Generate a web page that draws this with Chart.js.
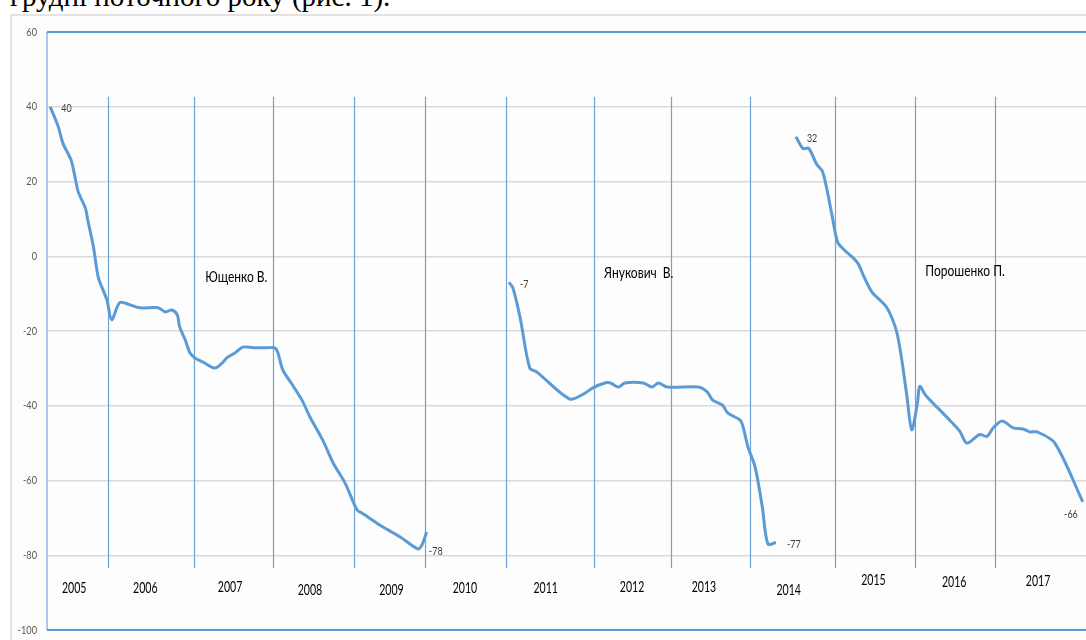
<!DOCTYPE html>
<html>
<head>
<meta charset="utf-8">
<script src="https://cdn.jsdelivr.net/npm/chart.js@4"></script>
<style>
  html, body { margin: 0; padding: 0; background: #ffffff; overflow: hidden; width: 1086px; height: 640px; }
  #wrap { position: relative; width: 1086px; height: 640px; overflow: hidden; }
  #doctext { position: absolute; left: 10px; top: -18px; font-family: 'Liberation Serif', 'Times New Roman', serif; font-size: 29px; line-height: 29px; color: #000; white-space: nowrap; }
  #frame { position: absolute; left: 10px; top: 14px; right: 0; bottom: 0; border-left: 2px solid #e3e3e3; border-top: 2px solid #e3e3e3; background: #fdfdfd; }
  canvas { position: absolute; left: 0; top: 0; }
</style>
</head>
<body>
<div id="wrap">
  <div id="doctext">грудні поточного року (рис. 1).</div>
  <div id="frame"></div>
  <canvas id="c" width="1086" height="640"></canvas>
</div>
<script>
// ---- Data (x = time in years, y = balance value) ----
const yushchenkoX = [2005.04, 2005.14, 2005.20, 2005.30, 2005.34, 2005.39, 2005.48, 2005.51, 2005.58, 2005.64,
  2005.70, 2005.75, 2005.81, 2005.91, 2006.04, 2006.16, 2006.39, 2006.48, 2006.56, 2006.63,
  2006.66, 2006.73, 2006.79, 2006.85, 2006.95, 2007.10, 2007.19, 2007.26, 2007.35, 2007.45,
  2007.58, 2007.75, 2007.85, 2007.89, 2007.95, 2008.07, 2008.19, 2008.29, 2008.45, 2008.58,
  2008.73, 2008.88, 2008.94, 2009.20, 2009.42, 2009.64, 2009.69, 2009.75];
const yushchenkoY = [40, 34.7, 30.2, 25.8, 22.3, 17.3, 12.9, 9.7, 2.6, -5.5,
  -9, -11.7, -17, -12.4, -13, -13.8, -13.8, -14.9, -14.4, -15.7,
  -18.9, -22.4, -25.9, -27.2, -28.3, -29.9, -28.6, -27, -25.9, -24.3,
  -24.5, -24.5, -24.5, -25.9, -30.4, -34.4, -38.5, -43, -49.2, -55.3,
  -60.7, -67.9, -68.7, -72.4, -75.1, -78.3, -77.3, -73.8];

const yanukovychX = [2010.78, 2010.83, 2010.92, 2011.04, 2011.13, 2011.54, 2011.71, 2011.83, 2011.98, 2012.05,
  2012.15, 2012.23, 2012.46, 2012.57, 2012.65, 2012.76, 2013.15, 2013.26, 2013.33, 2013.45,
  2013.52, 2013.67, 2013.71, 2013.77, 2013.86, 2013.95, 2014.02, 2014.12];
const yanukovychY = [-7, -8.5, -16.5, -29.9, -31, -38.2, -36.9, -35.2, -33.9, -33.9,
  -35, -33.9, -33.9, -35, -33.9, -35, -35, -36.3, -38.5, -39.8,
  -42, -43.8, -45.7, -51, -56.4, -67.1, -77, -76.6];

const poroshenkoX = [2014.37, 2014.46, 2014.53, 2014.63, 2014.70, 2014.76, 2014.82, 2014.89, 2014.96, 2015.14,
  2015.21, 2015.32, 2015.49, 2015.57, 2015.64, 2015.70, 2015.76, 2015.82, 2015.89, 2015.92,
  2015.99, 2016.26, 2016.42, 2016.51, 2016.67, 2016.76, 2016.84, 2016.95, 2017.09, 2017.21,
  2017.30, 2017.39, 2017.61, 2017.96];
const poroshenkoY = [32, 28.8, 28.9, 24.6, 22.8, 17.7, 11.2, 3.9, 2.0, -1.7,
  -4.9, -9.5, -13.2, -16.4, -21.0, -28.4, -37.6, -46.4, -39.4, -34.8,
  -37.1, -43.1, -46.8, -50, -47.7, -48.2, -45.9, -44.1, -45.9, -46.2,
  -47.0, -47.0, -50, -65.7];

// year captions under the plot (x in years, y in axis units)
const yearLabels = ['2005','2006','2007','2008','2009','2010','2011','2012','2013','2014','2015','2016','2017'];
const yearLabelX = [2005.34, 2006.23, 2007.29, 2008.29, 2009.31, 2010.23, 2011.24, 2012.32, 2013.22, 2014.28, 2015.34, 2016.35, 2017.40];
const yearLabelY = [-88.7, -88.7, -88.5, -89.2, -89.3, -88.8, -88.8, -88.5, -88.5, -89.3, -86.6, -87.2, -86.9];
// year separator lines
const yearBounds = [2005.76, 2006.84, 2007.83, 2008.84, 2009.73, 2010.74, 2011.84, 2012.81, 2013.80, 2014.86, 2015.86, 2016.86];
const boundTop = 42.7, boundBottom = -83.5;
const axisStart = 2005, axisEnd = 2018;
const yTickMin = -100, yTickMax = 60, yTickStep = 20;

const presidentNames = ['Ющенко В.', 'Янукович  В.', 'Порошенко П.'];
const presidentNameX = [2006.98, 2011.97, 2015.99];
const presidentNameY = [-5.6, -4.5, -3.9];

// data labels: [dataset, point index, placement]
const valueLabels = [[0, 0, 'right'], [0, 45, 'right'], [1, 0, 'right'], [1, 27, 'right'], [2, 0, 'right'], [2, 33, 'belowLeft']];

const zip = (xs, ys) => xs.map((x, i) => ({ x: x, y: ys[i] }));

const FONT = "Lato, 'Open Sans', 'Liberation Sans', sans-serif";
const BLUE = '#5b9bd5';

// draws horizontally condensed text (the reference picture is squeezed horizontally)
function condensed(ctx, txt, x, y, size, sx, align, color) {
  ctx.save();
  ctx.font = size + 'px ' + FONT;
  ctx.fillStyle = color;
  ctx.textBaseline = 'middle';
  ctx.textAlign = align;
  ctx.translate(x, y);
  ctx.scale(sx, 1);
  ctx.fillText(txt, 0, 0);
  ctx.restore();
}

const decor = {
  id: 'decor',
  beforeDatasetsDraw(chart) {
    const { ctx, chartArea: a, scales: { x, y } } = chart;
    ctx.save();
    // year separators
    ctx.strokeStyle = '#6fa3d8';
    ctx.lineWidth = 1.2;
    const yt = y.getPixelForValue(boundTop), yb = y.getPixelForValue(boundBottom);
    yearBounds.forEach(b => {
      const px = Math.round(x.getPixelForValue(b)) + 0.5;
      ctx.beginPath(); ctx.moveTo(px, yt); ctx.lineTo(px, yb); ctx.stroke();
    });
    // plot frame
    ctx.lineWidth = 2;
    ctx.strokeStyle = '#a9c9ea';
    ctx.beginPath(); ctx.moveTo(a.left, a.top); ctx.lineTo(a.left, a.bottom); ctx.stroke();
    ctx.strokeStyle = BLUE;
    ctx.beginPath(); ctx.moveTo(a.left, a.top); ctx.lineTo(a.right + 5, a.top); ctx.stroke();
    ctx.beginPath(); ctx.moveTo(a.left, a.bottom); ctx.lineTo(a.right + 5, a.bottom); ctx.stroke();
    ctx.restore();
    // y tick labels
    y.ticks.forEach(t => {
      condensed(ctx, String(t.value), a.left - 10, y.getPixelForValue(t.value), 11.5, 0.8, 'right', '#595959');
    });
    // year captions
    yearLabels.forEach((t, i) => {
      condensed(ctx, t, x.getPixelForValue(yearLabelX[i]), y.getPixelForValue(yearLabelY[i]), 16, 0.66, 'center', '#000');
    });
  },
  afterDatasetsDraw(chart) {
    const { ctx, scales: { x, y } } = chart;
    valueLabels.forEach(([d, i, pos]) => {
      const pt = chart.data.datasets[d].data[i];
      const px = x.getPixelForValue(pt.x), py = y.getPixelForValue(pt.y);
      const txt = String(Math.round(pt.y));
      if (pos === 'right') condensed(ctx, txt, px + 11, py + 2, 11.5, 0.78, 'left', '#404040');
      else condensed(ctx, txt, px - 5, py + 12, 11.5, 0.78, 'right', '#404040');
    });
    presidentNames.forEach((n, i) => {
      condensed(ctx, n, x.getPixelForValue(presidentNameX[i]), y.getPixelForValue(presidentNameY[i]), 15, 0.8, 'left', '#000');
    });
  }
};

const lineStyle = { borderColor: BLUE, borderWidth: 3, pointRadius: 0, tension: 0.3, fill: false };

new Chart(document.getElementById('c'), {
  type: 'line',
  data: {
    datasets: [
      Object.assign({ label: 'Ющенко В.', data: zip(yushchenkoX, yushchenkoY) }, lineStyle),
      Object.assign({ label: 'Янукович В.', data: zip(yanukovychX, yanukovychY) }, lineStyle),
      Object.assign({ label: 'Порошенко П.', data: zip(poroshenkoX, poroshenkoY) }, lineStyle)
    ]
  },
  options: {
    responsive: false,
    animation: false,
    layout: { padding: { top: 32, right: 0, bottom: 10, left: 0 } },
    plugins: { legend: { display: false }, tooltip: { enabled: false } },
    scales: {
      x: { type: 'linear', min: axisStart, max: axisEnd, display: false },
      y: {
        min: yTickMin, max: yTickMax,
        ticks: { stepSize: yTickStep, display: false },
        grid: { color: '#d9d9d9', lineWidth: 1.5, drawTicks: false },
        border: { display: false },
        afterFit: s => { s.width = 47; }
      }
    }
  },
  plugins: [decor]
});
</script>
</body>
</html>
